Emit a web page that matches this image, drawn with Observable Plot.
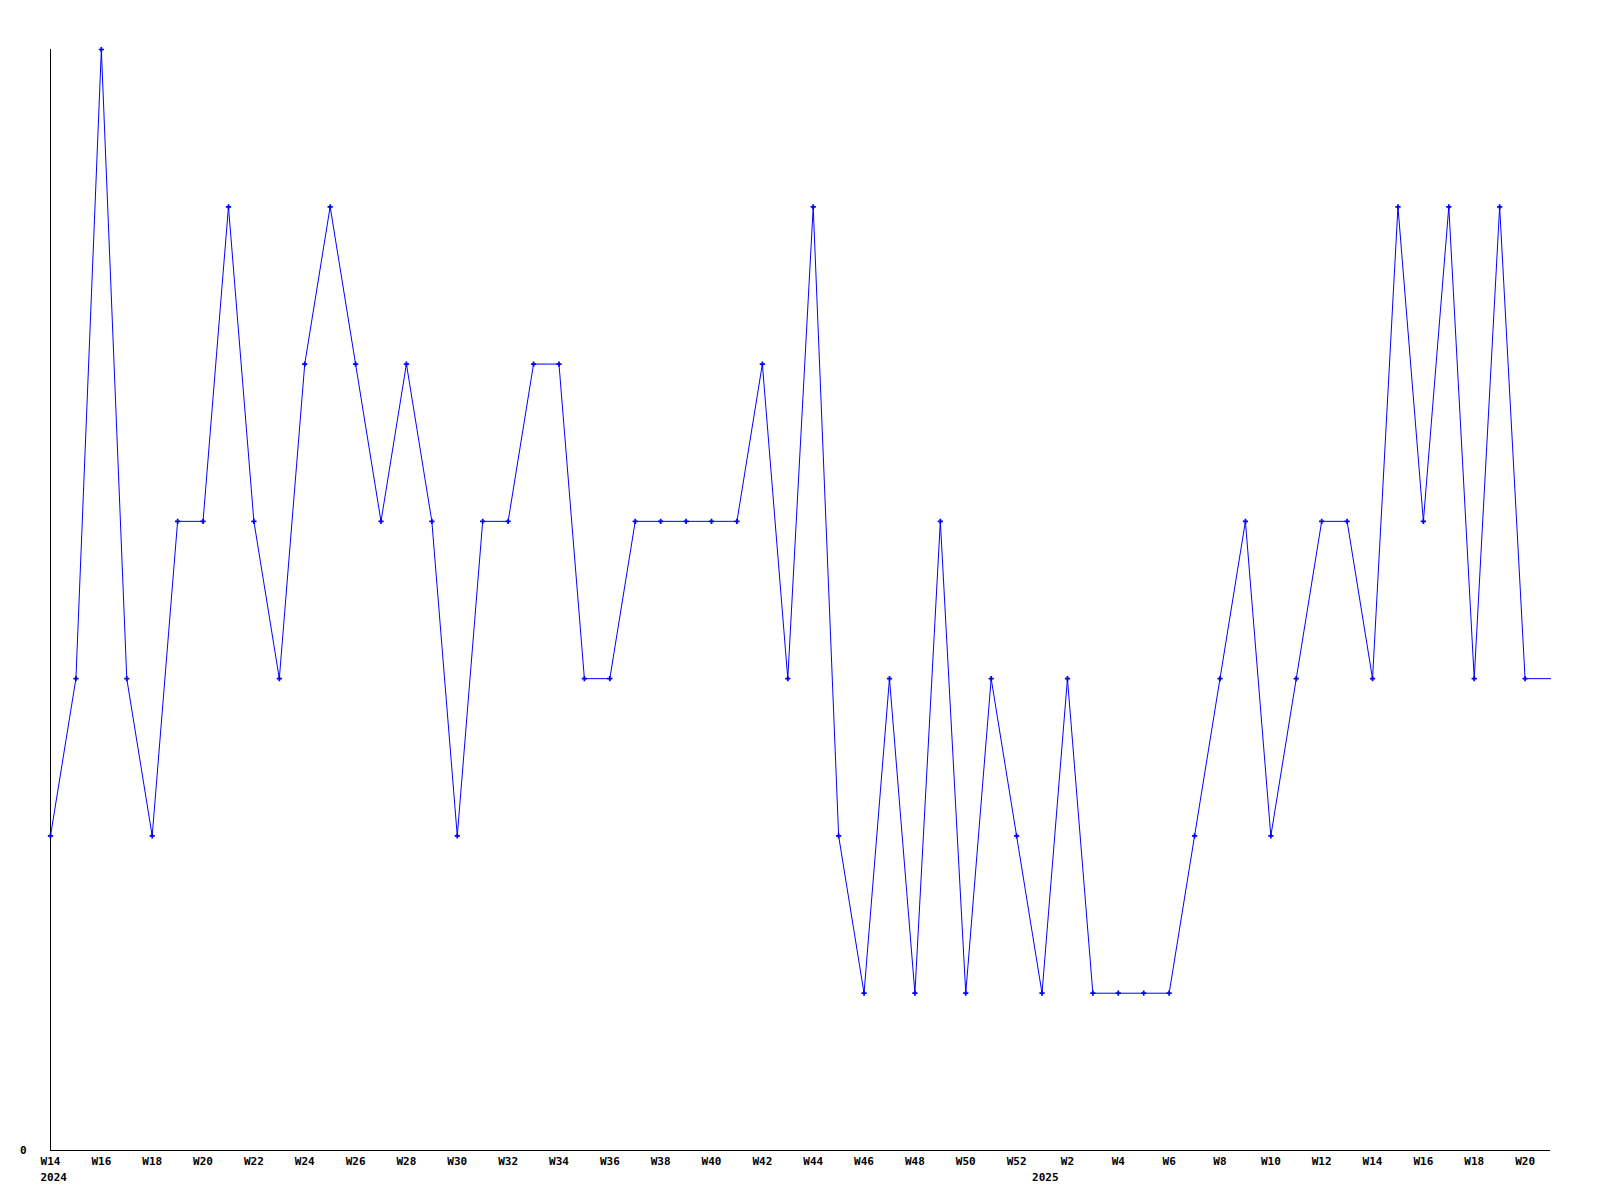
<!DOCTYPE html>
<html>
<head>
<meta charset="utf-8">
<script src="https://cdn.jsdelivr.net/npm/d3@7"></script>
<script src="https://cdn.jsdelivr.net/npm/@observablehq/plot@0.6"></script>
<style>
  html, body { margin: 0; padding: 0; background: #fff; }
  #chart svg { display: block; }
</style>
</head>
<body>
<div id="chart"></div>
<script>
// Week labels (2024 W14 … 2025 W20), plus the open end of the line
const weeks = [
  "W14","W15","W16","W17","W18","W19","W20","W21","W22","W23","W24","W25","W26",
  "W27","W28","W29","W30","W31","W32","W33","W34","W35","W36","W37","W38","W39",
  "W40","W41","W42","W43","W44","W45","W46","W47","W48","W49","W50","W51","W52",
  "W1","W2","W3","W4","W5","W6","W7","W8","W9","W10","W11","W12","W13","W14",
  "W15","W16","W17","W18","W19","W20"
];
const values = [
  2,3,7,3,2,4,4,6,4,3,5,6,5,
  4,5,4,2,4,4,5,5,3,3,4,4,4,
  4,4,5,3,6,2,1,3,1,4,1,3,2,
  1,3,1,1,1,1,2,3,4,2,3,4,4,3,
  6,4,6,3,6,3
];
// the line runs on to the right edge at the last value
const trailingValue = 3;
const yearLabels = ["2024", "2025"];
const yearStartIdx = [0, 39];
const yTickValues = [0];

const points = values.map((v, i) => ({i, v}));
const linePts = points.concat([{i: values.length, v: trailingValue}]);
const tickIdx = weeks.map((w, i) => i).filter(i => +weeks[i].slice(1) % 2 === 0);
const years = yearLabels.map((t, k) => ({i: yearStartIdx[k], t}));

const font = "'DejaVu Sans Mono', monospace";

const chart = Plot.plot({
  width: 1600,
  height: 1200,
  marginLeft: 50,
  marginRight: 50,
  marginTop: 49,
  marginBottom: 50,
  style: {fontFamily: font, fontSize: "11px", fontWeight: "bold", background: "#fff"},
  x: {type: "linear", domain: [0, values.length]},
  y: {type: "linear", domain: [0, 7]},
  marks: [
    Plot.axisX({ticks: tickIdx, tickFormat: i => weeks[i], tickSize: 0, tickPadding: 7, fontSize: 11, fontWeight: "bold", fill: "#000", label: null}),
    Plot.axisY({ticks: yTickValues, tickFormat: d => String(d), tickSize: 0, tickPadding: 24, fontSize: 11, fontWeight: "bold", fill: "#000", label: null}),
    Plot.text(years, {x: "i", y: 0, text: "t", dy: 27, dx: -10, textAnchor: "start", fontSize: 11, fontWeight: "bold", fill: "#000"}),
    Plot.ruleX([0], {y1: 0, y2: 7, stroke: "#000", strokeWidth: 1}),
    Plot.ruleY([0], {x1: 0, x2: values.length, stroke: "#000", strokeWidth: 1}),
    Plot.line(linePts, {x: "i", y: "v", stroke: "#0000ff", strokeWidth: 1, curve: "linear"}),
    Plot.dot(points, {x: "i", y: "v", symbol: "cross", r: 2.2, fill: "#0000ff", stroke: "none"})
  ]
});
document.getElementById("chart").appendChild(chart);
</script>
</body>
</html>
